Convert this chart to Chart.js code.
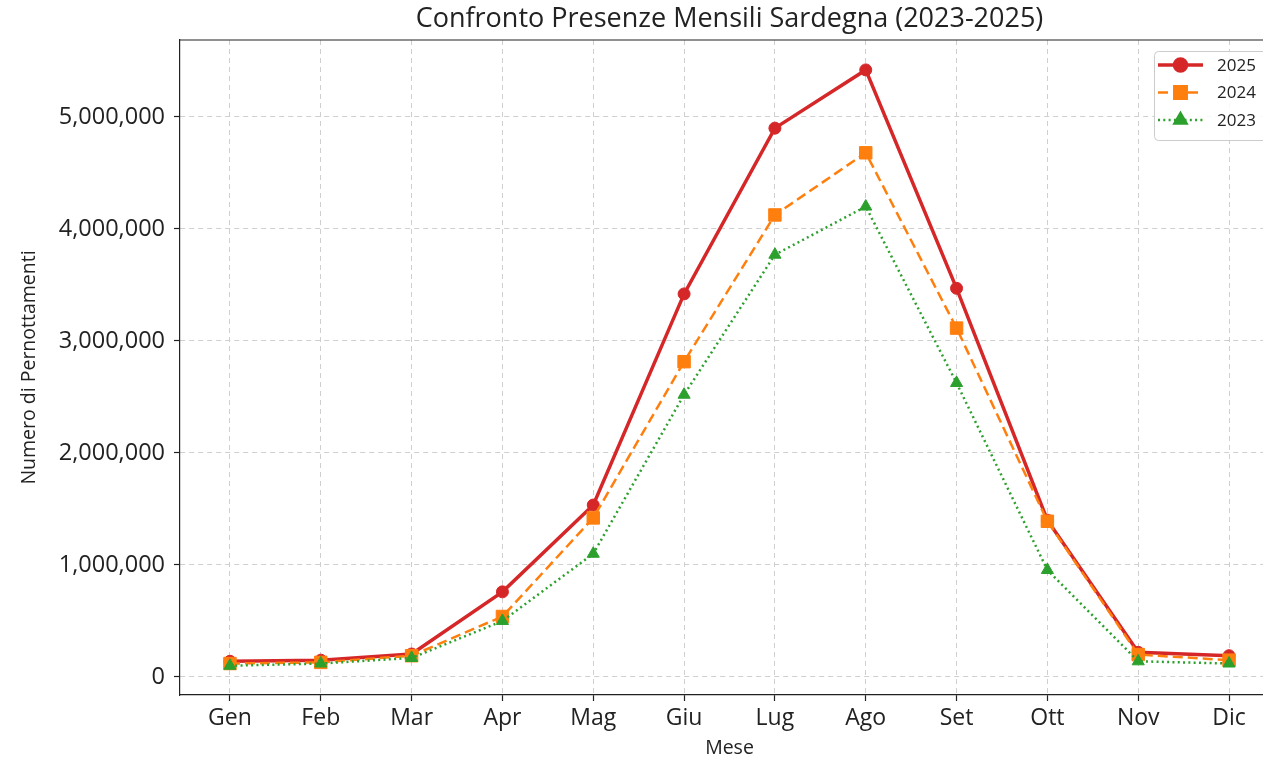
<!doctype html>
<html lang="it">
<head>
<meta charset="utf-8">
<title>Confronto Presenze Mensili Sardegna</title>
<script src="https://cdn.jsdelivr.net/npm/chart.js"></script>
<style>
  html, body { margin: 0; padding: 0; background: #fff; overflow: hidden; }
  #wrap { width: 1263px; height: 761px; overflow: hidden; }
</style>
</head>
<body>
<div id="wrap"><canvas id="myChart" width="1290" height="761"></canvas></div>
<script>
// months and values
const mesi = ['Gen', 'Feb', 'Mar', 'Apr', 'Mag', 'Giu', 'Lug', 'Ago', 'Set', 'Ott', 'Nov', 'Dic'];
const anni = ['2025', '2024', '2023'];
const pres2025 = [140000, 150000, 205000, 760000, 1535000, 3420000, 4900000, 5420000, 3470000, 1400000, 220000, 190000];
const pres2024 = [120000, 130000, 190000, 540000, 1420000, 2815000, 4125000, 4680000, 3115000, 1390000, 200000, 150000];
const pres2023 = [100000, 120000, 170000, 500000, 1100000, 2520000, 3770000, 4200000, 2625000, 955000, 140000, 120000];
const yTicks = [0, 1000000, 2000000, 3000000, 4000000, 5000000];

const FONT = "'Open Sans', 'DejaVu Sans', sans-serif";
const toXY = arr => arr.map((v, i) => ({ x: i, y: v }));

const styles = [
  { color: '#d62728', width: 3.5, dash: [], point: 'circle', r: 6 },
  { color: '#ff7f0e', width: 2.5, dash: [10, 5], point: 'rect', r: 8.8 },
  { color: '#2ca02c', width: 2.5, dash: [2, 3.3], point: 'triangle', r: 7 }
];
const serie = [pres2025, pres2024, pres2023];

// top spine + legend inside the plot
const framePlugin = {
  id: 'frame',
  afterDraw(chart) {
    const { ctx, chartArea: a } = chart;
    ctx.save();
    ctx.strokeStyle = '#222';
    ctx.lineWidth = 1.2;
    ctx.beginPath();
    ctx.moveTo(a.left, a.top);
    ctx.lineTo(a.right, a.top);
    ctx.stroke();

    // legend box
    const bx = 1154, by = a.top + 11, bw = 125, bh = 89;
    ctx.fillStyle = 'rgba(255,255,255,0.85)';
    ctx.strokeStyle = '#cccccc';
    ctx.lineWidth = 1;
    ctx.beginPath();
    ctx.roundRect(bx + 0.5, by + 0.5, bw, bh, 4);
    ctx.fill();
    ctx.stroke();
    ctx.font = '17px ' + FONT;
    ctx.textBaseline = 'middle';
    anni.forEach((lab, i) => {
      const s = styles[i];
      const yy = by + 14 + i * 27.5;
      ctx.strokeStyle = s.color;
      ctx.lineWidth = s.width;
      ctx.setLineDash(s.dash);
      ctx.beginPath();
      ctx.moveTo(bx + 4, yy);
      ctx.lineTo(bx + 49, yy);
      ctx.stroke();
      ctx.setLineDash([]);
      Chart.helpers.drawPoint(ctx, { pointStyle: s.point, radius: s.r, borderWidth: 1, rotation: 0 }, bx + 26.5, yy);
      ctx.fillStyle = s.color;
      ctx.fill();
      ctx.fillStyle = '#222';
      ctx.fillText(lab, bx + 63, yy + 1);
    });
    ctx.restore();
  }
};

const ctx = document.getElementById('myChart');

const myChart = new Chart(ctx, {
  type: 'line',
  data: {
    datasets: anni.map((lab, i) => ({
      label: lab,
      data: toXY(serie[i]),
      borderColor: styles[i].color,
      backgroundColor: styles[i].color,
      borderWidth: styles[i].width,
      borderDash: styles[i].dash,
      pointStyle: styles[i].point,
      pointRadius: styles[i].r,
      pointHoverRadius: styles[i].r,
      pointBorderWidth: 1,
      pointBorderColor: styles[i].color,
      tension: 0,
      order: 2 - i
    }))
  },
  options: {
    responsive: false,
    devicePixelRatio: 1,
    animation: false,
    layout: { padding: { top: 0, right: 11, left: 0, bottom: 0 } },
    plugins: {
      legend: { display: false },
      tooltip: { enabled: false },
      title: {
        display: true,
        fullSize: false,
        text: 'Confronto Presenze Mensili Sardegna (2023-2025)',
        color: '#222',
        font: { family: FONT, size: 27, weight: 'normal', lineHeight: 1.2 },
        padding: { top: 3, bottom: 4.6 }
      }
    },
    scales: {
      x: {
        type: 'linear',
        min: -0.55,
        max: 11.55,
        afterBuildTicks: s => { s.ticks = mesi.map((m, i) => ({ value: i })); },
        afterFit: s => { s.height = 66; },
        ticks: {
          callback: v => mesi[v],
          color: '#222',
          font: { family: FONT, size: 23 },
          padding: 4,
          maxRotation: 0,
          autoSkip: false
        },
        grid: {
          color: '#cfcfcf',
          lineWidth: 1,
          tickColor: '#222',
          tickBorderDash: [],
          tickLength: 6,
          tickWidth: 1.2
        },
        border: { display: true, color: '#222', width: 1.2, dash: [5, 4] },
        title: {
          display: true,
          text: 'Mese',
          color: '#222',
          font: { family: FONT, size: 19.5 },
          padding: { top: 0, bottom: 1 }
        }
      },
      y: {
        min: -161000,
        max: 5687000,
        afterBuildTicks: s => { s.ticks = yTicks.map(v => ({ value: v })); },
        afterFit: s => { s.width = 180; },
        ticks: {
          callback: v => v.toLocaleString('en-US'),
          color: '#222',
          font: { family: FONT, size: 23.5 },
          padding: 9
        },
        grid: {
          color: '#cfcfcf',
          lineWidth: 1,
          tickColor: '#222',
          tickBorderDash: [],
          tickLength: 6,
          tickWidth: 1.2
        },
        border: { display: true, color: '#222', width: 1.2, dash: [5, 4] },
        title: {
          display: true,
          text: 'Numero di Pernottamenti',
          color: '#222',
          font: { family: FONT, size: 19.5 },
          padding: { top: 18, bottom: 0 }
        }
      }
    }
  },
  plugins: [framePlugin]
});
</script>
</body>
</html>
